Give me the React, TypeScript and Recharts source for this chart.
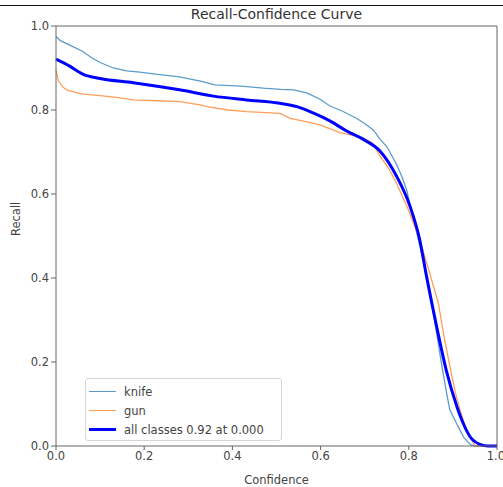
import { LineChart, Line, XAxis, YAxis, ReferenceLine } from "recharts"

// confidence / recall pairs
const knifeConf = [0, 0.01, 0.03, 0.06, 0.08, 0.1, 0.13, 0.16, 0.19, 0.23, 0.28, 0.33, 0.36, 0.42, 0.47, 0.51, 0.54, 0.57, 0.6, 0.62, 0.65, 0.68, 0.7, 0.72, 0.735, 0.75, 0.77, 0.785, 0.795, 0.807, 0.82, 0.835, 0.85, 0.863, 0.875, 0.885, 0.893, 0.91, 0.925, 0.94, 0.95, 1.0]
const knifeRecall = [0.975, 0.965, 0.955, 0.94, 0.925, 0.913, 0.9, 0.893, 0.89, 0.885, 0.879, 0.868, 0.86, 0.857, 0.852, 0.849, 0.848, 0.84, 0.825, 0.81, 0.797, 0.781, 0.768, 0.752, 0.73, 0.713, 0.675, 0.64, 0.61, 0.555, 0.5, 0.43, 0.35, 0.27, 0.19, 0.13, 0.086, 0.05, 0.02, 0.003, 0, 0]

const gunConf = [0, 0.005, 0.015, 0.024, 0.04, 0.062, 0.1, 0.138, 0.175, 0.23, 0.28, 0.327, 0.342, 0.39, 0.433, 0.508, 0.531, 0.57, 0.6, 0.644, 0.69, 0.717, 0.735, 0.755, 0.772, 0.8, 0.825, 0.845, 0.867, 0.88, 0.895, 0.905, 0.916, 0.93, 0.95, 1.0]
const gunRecall = [0.895, 0.87, 0.855, 0.848, 0.843, 0.838, 0.834, 0.83, 0.824, 0.822, 0.82, 0.812, 0.808, 0.8, 0.796, 0.792, 0.78, 0.772, 0.764, 0.746, 0.736, 0.722, 0.69, 0.66, 0.626, 0.56, 0.49, 0.42, 0.34, 0.26, 0.18, 0.13, 0.086, 0.04, 0, 0]

const allConf = [0, 0.03, 0.062, 0.1, 0.175, 0.28, 0.357, 0.432, 0.508, 0.546, 0.583, 0.621, 0.659, 0.697, 0.735, 0.772, 0.803, 0.825, 0.84, 0.863, 0.885, 0.909, 0.925, 0.939, 0.961, 0.98, 1.0]
const allRecall = [0.921, 0.905, 0.885, 0.875, 0.865, 0.848, 0.833, 0.824, 0.816, 0.808, 0.793, 0.774, 0.75, 0.73, 0.702, 0.643, 0.57, 0.49, 0.405, 0.285, 0.18, 0.094, 0.05, 0.022, 0.004, 0, 0]

const ticks = [0, 0.2, 0.4, 0.6, 0.8, 1.0]

const toPoints = (xs: number[], ys: number[]) => xs.map((x, i) => ({ x, y: ys[i] }))

const knifeData = toPoints(knifeConf, knifeRecall)
const gunData = toPoints(gunConf, gunRecall)
const allData = toPoints(allConf, allRecall)

const FONT = "'DejaVu Sans', sans-serif"
const AXIS = "#666"
const TEXT = "#444"

const legendItems = [
  { label: "knife", color: "#5b9bcb", width: 1.5 },
  { label: "gun", color: "#ff9e59", width: 1.5 },
  { label: "all classes 0.92 at 0.000", color: "#0000ff", width: 3 },
]

function LegendBox() {
  return (
    <div
      style={{
        position: "absolute",
        left: 85,
        top: 378,
        background: "#fff",
        border: "1px solid #d6d6d6",
        borderRadius: 3,
        width: 195,
        height: 57,
        padding: "3px 0 1px",
        fontFamily: FONT,
        fontSize: 11.5,
        color: TEXT,
      }}
    >
      {legendItems.map((it) => (
        <div key={it.label} style={{ display: "flex", alignItems: "center", height: 19 }}>
          <div style={{ width: 27, height: it.width, background: it.color, marginLeft: 3, marginRight: 8 }} />
          <span>{it.label}</span>
        </div>
      ))}
    </div>
  )
}

export default function App() {
  const fmt = (v: number) => v.toFixed(1)
  return (
    <div style={{ position: "absolute", left: 0, top: 0, width: 503, height: 487, background: "#fff" }}>
      <div style={{ position: "absolute", left: 0, top: 5, width: 503, height: 1, background: "#111" }} />
      <div
        style={{
          position: "absolute",
          left: 56,
          width: 441,
          top: 6,
          textAlign: "center",
          fontFamily: FONT,
          fontSize: 14,
          color: "#333",
        }}
      >
        Recall-Confidence Curve
      </div>
      <LineChart width={503} height={487} margin={{ top: 26, right: 6, bottom: 0, left: 0 }}>
        <XAxis
          type="number"
          dataKey="x"
          domain={[0, 1]}
          ticks={ticks}
          tickFormatter={fmt}
          allowDuplicatedCategory={false}
          height={41}
          tickSize={4}
          tickMargin={2}
          stroke={AXIS}
          tick={{ fill: TEXT, fontSize: 11.5, fontFamily: FONT }}
          label={{ value: "Confidence", position: "insideBottom", offset: 3, fill: TEXT, fontSize: 11.5, fontFamily: FONT }}
        />
        <YAxis
          type="number"
          domain={[0, 1]}
          ticks={ticks}
          tickFormatter={fmt}
          width={56}
          tickSize={5}
          tickMargin={2}
          stroke={AXIS}
          tick={{ fill: TEXT, fontSize: 11.5, fontFamily: FONT }}
          label={{ value: "Recall", angle: -90, position: "insideLeft", offset: 16, fill: TEXT, fontSize: 11.5, fontFamily: FONT }}
        />
        <ReferenceLine y={1} stroke={AXIS} />
        <ReferenceLine x={1} stroke={AXIS} />
        <Line data={knifeData} dataKey="y" type="linear" stroke="#5b9bcb" strokeWidth={1.3} dot={false} isAnimationActive={false} />
        <Line data={gunData} dataKey="y" type="linear" stroke="#ff9e59" strokeWidth={1.3} dot={false} isAnimationActive={false} />
        <Line data={allData} dataKey="y" type="monotone" stroke="#0000ff" strokeWidth={3} dot={false} isAnimationActive={false} />
      </LineChart>
      <LegendBox />
    </div>
  )
}
